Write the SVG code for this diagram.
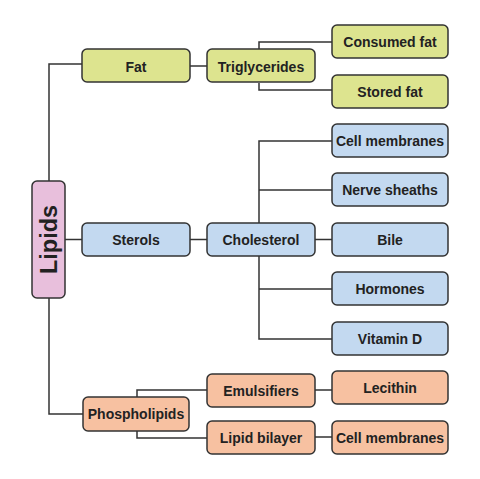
<svg xmlns="http://www.w3.org/2000/svg" width="480" height="479" viewBox="0 0 480 479">
<style>
.n rect{stroke:#333;stroke-width:1.5}
.g rect{fill:#dde48f}
.b rect{fill:#c3d9f0}
.o rect{fill:#f7c1a1}
.p rect{fill:#e8bfdc}
text{font-family:"Liberation Sans",Arial,sans-serif;font-weight:bold;font-size:14px;fill:#222;text-anchor:middle;dominant-baseline:central}
#connectors path{fill:none;stroke:#333;stroke-width:1.5}
</style>
<rect width="480" height="479" fill="#fff"/>
<g id="connectors">
<path d="M82,64H49V414H83"/>
<path d="M65,239.5H82"/>
<path d="M190,66H207"/>
<path d="M332,42H259V49M259,83V90H332"/>
<path d="M190,239.5H207"/>
<path d="M332,141H259V339H332M259,190H332M259,289H332M315,239.5H332"/>
<path d="M207,390H137V397M137,431V438H207"/>
<path d="M315,390H332M315,437H332"/>
</g>
<g id="lipids" class="n p"><rect x="32" y="181" width="33" height="117" rx="5"/><text transform="translate(48.5,239.5) rotate(-90)" style="font-size:23.5px">Lipids</text></g>
<g id="fat" class="n g"><rect x="82" y="49" width="108" height="33" rx="5"/><text x="136" y="66.5">Fat</text></g>
<g id="triglycerides" class="n g"><rect x="207" y="49" width="108" height="33" rx="5"/><text x="261" y="66.5">Triglycerides</text></g>
<g id="consumed-fat" class="n g"><rect x="332" y="25" width="116" height="33" rx="5"/><text x="390" y="42">Consumed fat</text></g>
<g id="stored-fat" class="n g"><rect x="332" y="75" width="116" height="33" rx="5"/><text x="390" y="91.5">Stored fat</text></g>
<g id="sterols" class="n b"><rect x="82" y="223" width="108" height="33" rx="5"/><text x="136" y="239.5">Sterols</text></g>
<g id="cholesterol" class="n b"><rect x="207" y="223" width="108" height="33" rx="5"/><text x="261" y="239.5">Cholesterol</text></g>
<g id="cell-membranes-1" class="n b"><rect x="332" y="124" width="116" height="33" rx="5"/><text x="390" y="141">Cell membranes</text></g>
<g id="nerve-sheaths" class="n b"><rect x="332" y="173" width="116" height="33" rx="5"/><text x="390" y="190">Nerve sheaths</text></g>
<g id="bile" class="n b"><rect x="332" y="223" width="116" height="33" rx="5"/><text x="390" y="239.5">Bile</text></g>
<g id="hormones" class="n b"><rect x="332" y="272" width="116" height="33" rx="5"/><text x="390" y="289">Hormones</text></g>
<g id="vitamin-d" class="n b"><rect x="332" y="322" width="116" height="33" rx="5"/><text x="390" y="339">Vitamin D</text></g>
<g id="phospholipids" class="n o"><rect x="83" y="397" width="106" height="34" rx="5"/><text x="136" y="414">Phospholipids</text></g>
<g id="emulsifiers" class="n o"><rect x="207" y="374" width="108" height="33" rx="5"/><text x="261" y="391">Emulsifiers</text></g>
<g id="lipid-bilayer" class="n o"><rect x="207" y="421" width="108" height="33" rx="5"/><text x="261" y="437.5">Lipid bilayer</text></g>
<g id="lecithin" class="n o"><rect x="332" y="371" width="116" height="33" rx="5"/><text x="390" y="388">Lecithin</text></g>
<g id="cell-membranes-2" class="n o"><rect x="332" y="421" width="116" height="33" rx="5"/><text x="390" y="437.5">Cell membranes</text></g>
</svg>
